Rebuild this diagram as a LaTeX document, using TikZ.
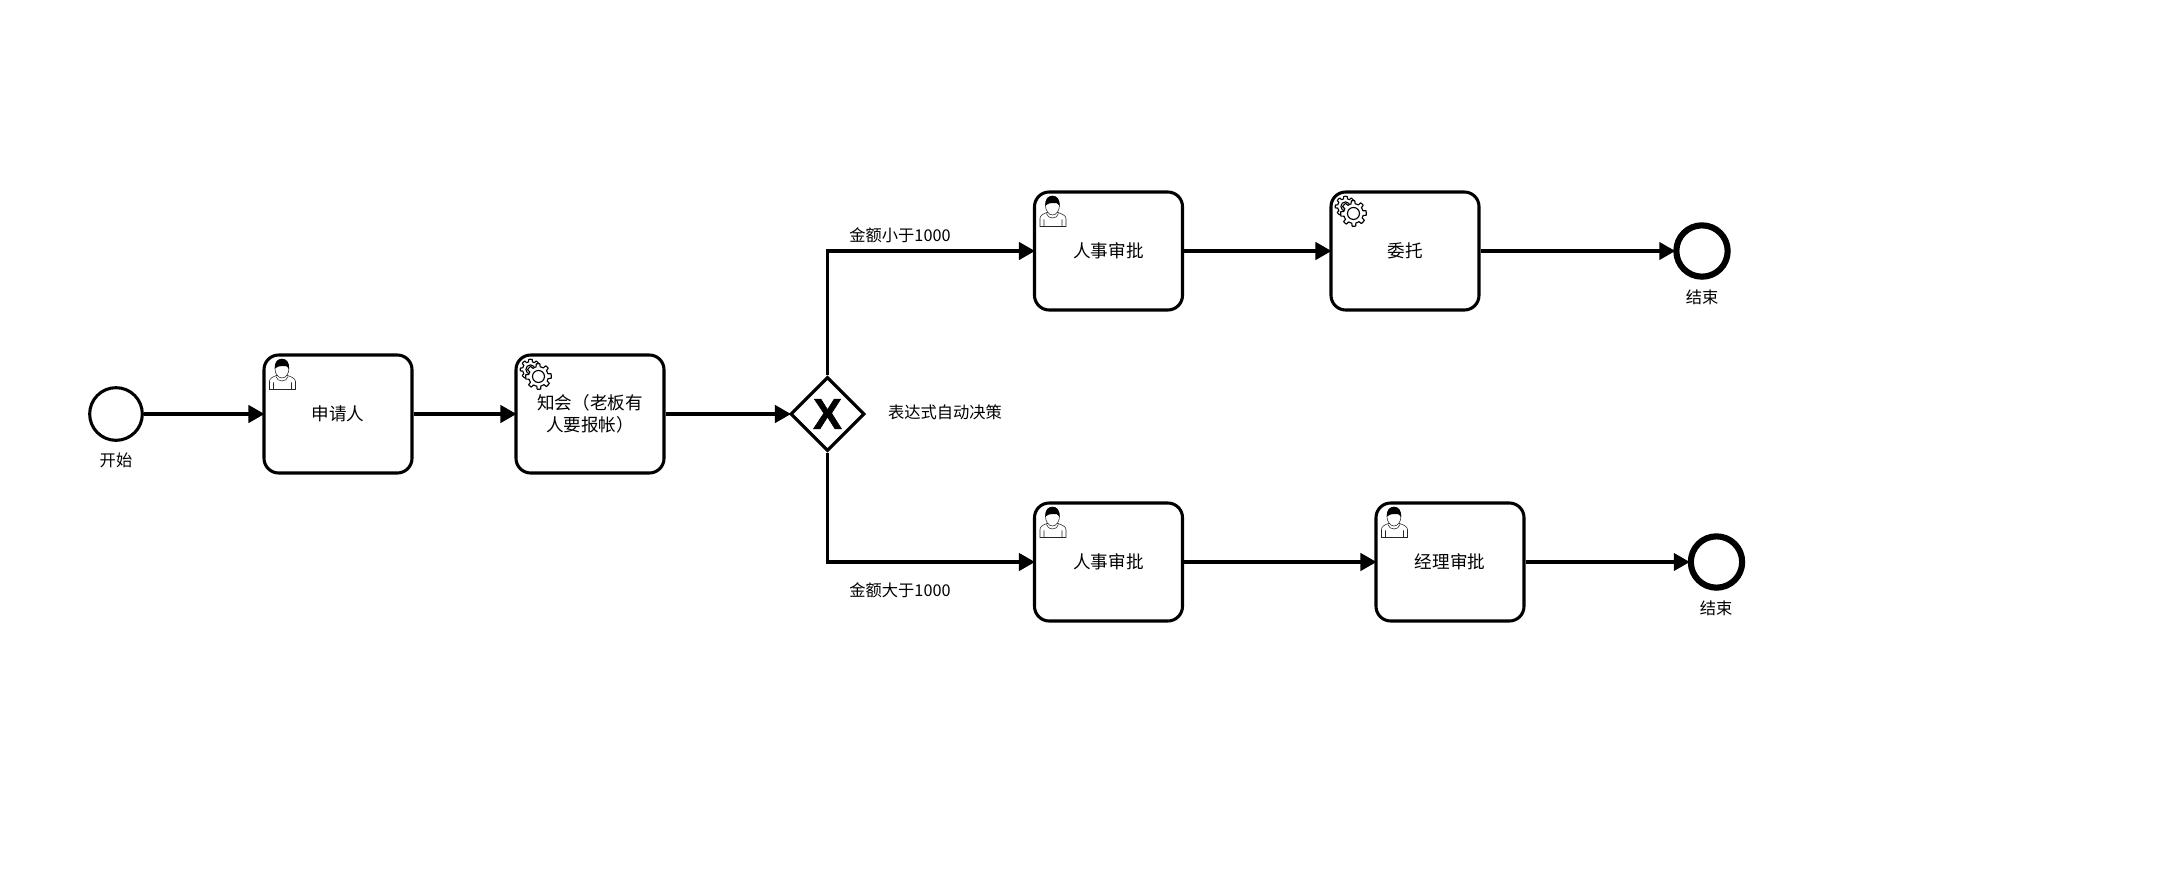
\documentclass[tikz,border=0pt]{standalone}
\usepackage{fontspec}
\setmainfont{Noto Sans CJK SC}
\newfontfamily\xfont{Liberation Sans}[BoldFeatures={FakeBold=1.2}]
\usetikzlibrary{arrows.meta,shapes.geometric}
\tikzset{
  bpmntask/.style={draw=black,line width=2.3pt,rounded corners=11pt,minimum width=111pt,minimum height=88.5pt,inner sep=0pt,align=center,font=\fontsize{13.2pt}{16.5pt}\selectfont},
  startev/.style={circle,draw=black,line width=2.3pt,minimum size=39.5pt,inner sep=0pt},
  endev/.style={circle,draw=black,line width=4.6pt,minimum size=38.5pt,inner sep=0pt},
  gate/.style={diamond,draw=black,line width=2.3pt,minimum width=55.5pt,minimum height=55.5pt,inner sep=0pt,font=\xfont\bfseries\fontsize{32.5pt}{32.5pt}\selectfont},
  flow/.style={draw=black,line width=2.4pt,shorten >=-1.5pt,-{Triangle[length=12pt,width=13pt]}},
  lbl/.style={inner sep=0pt,font=\fontsize{12.2pt}{15pt}\selectfont},
  usericon/.pic={
    \draw[black!85,line width=.42pt,fill=white] (7,36) -- (7,28) .. controls (7,25) and (10,23.5) .. (14,22) -- (25,22) .. controls (29,23.5) and (33,25) .. (33,28) -- (33,36) -- cycle;
    \draw[black!85,line width=.42pt] (11,29) -- (11,36) (29,29) -- (29,36) (13.5,23) .. controls (14.5,29) and (24.5,29) .. (25.5,23);
    \draw[black!85,line width=.42pt,fill=white] (19.5,15) ellipse [x radius=7,y radius=9.5];
    \fill[black] (12.5,15) .. controls (12,8) and (15,5.5) .. (19.5,5.5) .. controls (24,5.5) and (27,8) .. (26.5,16) .. controls (25,12.5) and (23,12) .. (20,12.5) .. controls (17,13) and (15,12.5) .. (12.5,15) -- cycle;
  },
  gearicon/.pic={
    \begin{scope}[shift={(16,16)}]
    \draw[black,line width=.85pt,fill=white,line join=round] plot[sharp cycle,domain=0:356,samples=90] (\x:{7.8+2.4*(cos(8*\x)>0)});
    \draw[black,line width=.85pt,fill=white] (0,0) circle [radius=4.6];
    \end{scope}
    \begin{scope}[shift={(24,23)}]
    \draw[black,line width=.85pt,fill=white,line join=round] plot[sharp cycle,domain=0:356,samples=90] (\x:{9.8+3*(cos(8*\x+22)>0)});
    \draw[black,line width=.85pt,fill=white] (0,0) circle [radius=6];
    \end{scope}
  }
}
\begin{document}
\begin{tikzpicture}[x=.75pt,y=-.75pt]
\useasboundingbox (0,0) rectangle (2180,882);
\fill[white] (0,0) rectangle (2180,882);

\node[startev] (start) at (116,414) {};
\node[lbl] (startl) at (116,460) {开始};
\node[bpmntask] (apply) at (338,414) {申请人};
\node[bpmntask] (notify) at (590,414) {知会（老板有\\人要报帐）};
\node[gate] (gw) at (827.5,414) {X};
\node[lbl] (gwl) at (945,412) {表达式自动决策};

\node[bpmntask] (hr1) at (1108.5,251) {人事审批};
\node[bpmntask] (deleg) at (1405,251) {委托};
\node[endev] (end1) at (1702,251) {};
\node[lbl] (end1l) at (1702,297) {结束};
\node[lbl] (up) at (900,235) {金额小于1000};

\node[bpmntask] (hr2) at (1108.5,562) {人事审批};
\node[bpmntask] (mgr) at (1450,562) {经理审批};
\node[endev] (end2) at (1716.5,562) {};
\node[lbl] (end2l) at (1716,608) {结束};
\node[lbl] (down) at (900,590) {金额大于1000};

\pic at (apply.north west) {usericon};
\pic at (notify.north west) {gearicon};
\pic at (hr1.north west) {usericon};
\pic at (deleg.north west) {gearicon};
\pic at (hr2.north west) {usericon};
\pic at (mgr.north west) {usericon};

\draw[flow] (start) -- (apply);
\draw[flow] (apply) -- (notify);
\draw[flow] (notify) -- (gw);
\draw[flow] (gw.north) |- (hr1.west);
\draw[flow] (gw.south) |- (hr2.west);
\draw[flow] (hr1) -- (deleg);
\draw[flow] (deleg) -- (end1);
\draw[flow] (hr2) -- (mgr);
\draw[flow] (mgr) -- (end2);
\end{tikzpicture}
\end{document}
